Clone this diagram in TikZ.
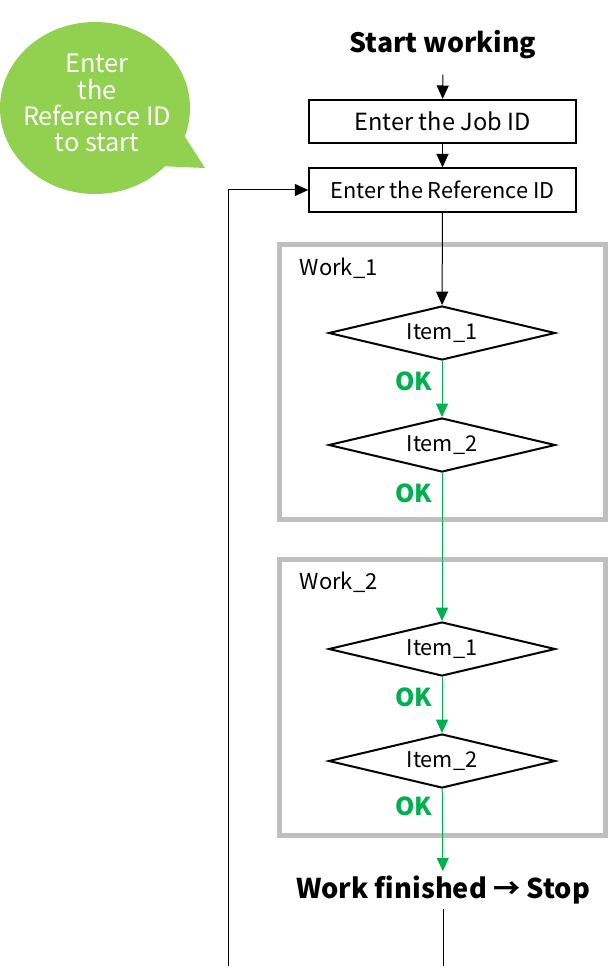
\documentclass[tikz,border=0pt]{standalone}
\usepackage{fontspec}
\setmainfont{Noto Sans CJK JP}
\usetikzlibrary{arrows.meta,shapes.geometric}
\definecolor{okgreen}{HTML}{00B050}
\definecolor{bubblegreen}{HTML}{92D050}
\definecolor{framegray}{HTML}{BFBFBF}

\tikzset{
  stepbox/.style={draw, line width=1.5pt, minimum width=200pt, minimum height=32.5pt, inner sep=0pt},
  check/.style={diamond, draw, line width=1.5pt, aspect=4, inner sep=0pt,
    minimum width=170pt, minimum height=40.5pt, font=\fontsize{16.3}{18}\selectfont},
  frame/.style={draw=framegray, line width=3.75pt},
  oklabel/.style={text=okgreen, font=\fontsize{18.5}{20}\selectfont\bfseries},
  title/.style={font=\fontsize{20}{24}\selectfont\bfseries},
  worklabel/.style={anchor=west, font=\fontsize{16.5}{18}\selectfont},
  flow/.style={->, line width=0.75pt},
  okflow/.style={->, line width=0.75pt, draw=okgreen, fill=okgreen}
}

\begin{document}
\begin{tikzpicture}[x=0.75pt, y=-0.75pt, >={Triangle[width=9pt,length=10pt]}]
\useasboundingbox (0,0) rectangle (608,966);

% speech bubble
\fill[bubblegreen] (95,108) ellipse [x radius=95, y radius=86];
\fill[bubblegreen] (178,126) -- (205,168) -- (158,166) -- cycle;
\node[text=white, align=center, font=\fontsize{19}{19.6}\selectfont] (tip) at (97,103)
  {Enter\\the\\Reference ID\\to start};

% frames
\draw[frame] (279,244) rectangle (605,519);
\draw[frame] (279,559) rectangle (605,835);
\node[worklabel] (work1) at (295,268) {Work\_1};
\node[worklabel] (work2) at (295,582) {Work\_2};

% nodes
\node[title] (start) at (443,45) {Start working};
\node[stepbox, font=\fontsize{17.7}{19}\selectfont] (job) at (442.5,121.5) {Enter the Job ID};
\node[stepbox, font=\fontsize{16.3}{18}\selectfont] (ref) at (442.5,190) {Enter the Reference ID};
\node[check] (item11) at (442,333) {Item\_1};
\node[check] (item12) at (442,445) {Item\_2};
\node[check] (item21) at (442,649) {Item\_1};
\node[check] (item22) at (442,761) {Item\_2};
\node[oklabel] (ok11) at (414,381) {OK};
\node[oklabel] (ok12) at (414,493) {OK};
\node[oklabel] (ok21) at (414,697) {OK};
\node[oklabel] (ok22) at (414,806) {OK};
\node[title, font=\fontsize{20.4}{24}\selectfont\bfseries] (finish) at (443,890) {Work finished → Stop};
\coordinate (finend) at (443,966);
\coordinate (loopend) at (228,966);

% connectors
\draw[flow, shorten <=8pt] (start) -- (job);
\draw[flow] (job) -- (ref);
\draw[flow] (ref) -- (item11);
\draw[okflow] (item11) -- (item12);
\draw[okflow] (item12) -- (item21);
\draw[okflow] (item21) -- (item22);
\draw[okflow] (item22) -- (finish);
\draw[line width=0.75pt] (finish) -- (finend);
\draw[flow] (loopend) |- (ref.west);

\end{tikzpicture}
\end{document}
